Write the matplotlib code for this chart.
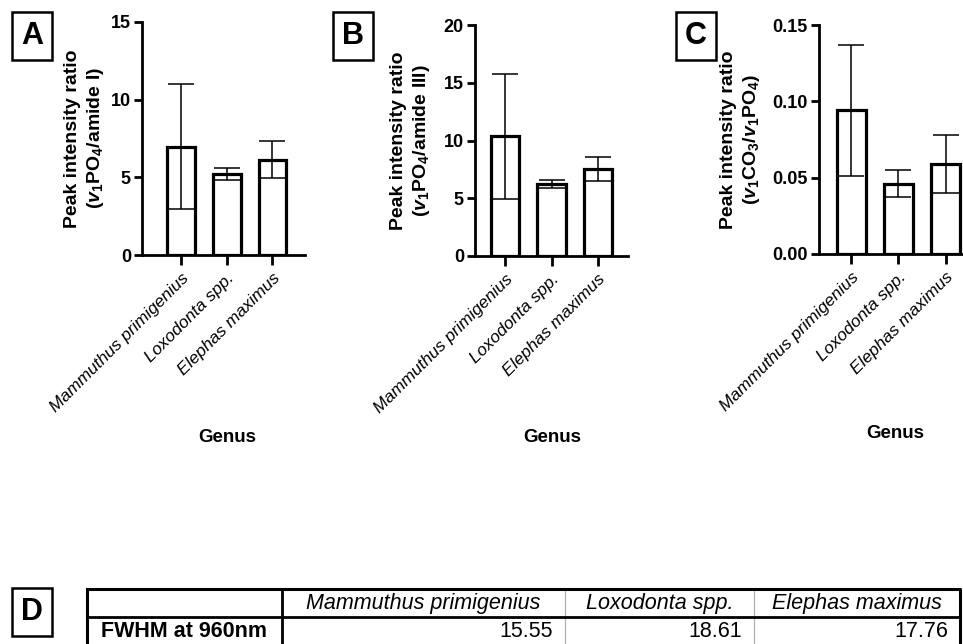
import numpy as np
import matplotlib
matplotlib.use("Agg")
import matplotlib.pyplot as plt

plt.rcParams['font.family'] = ['Liberation Sans', 'DejaVu Sans']
plt.rcParams['mathtext.fontset'] = 'custom'
plt.rcParams['mathtext.rm'] = 'Liberation Sans:bold'
plt.rcParams['mathtext.it'] = 'Liberation Sans:bold:italic'
plt.rcParams['mathtext.bf'] = 'Liberation Sans:bold'

# data
genus = ['Mammuthus primigenius', 'Loxodonta spp.', 'Elephas maximus']

mean_a = [6.98, 5.21, 6.14]
sd_a = [4.02, 0.39, 1.20]

mean_b = [10.35, 6.27, 7.55]
sd_b = [5.40, 0.35, 1.02]

mean_c = [0.094, 0.046, 0.059]
sd_c = [0.043, 0.0089, 0.019]

fwhm_label = 'FWHM at 960nm'
fwhm = [15.55, 18.61, 17.76]

W, H = 963, 644
fig = plt.figure(figsize=(W / 100, H / 100), dpi=100)


def px_box(l, t, r, b):
    return [l / W, 1 - b / H, (r - l) / W, (b - t) / H]


def fx(x):
    return x / W


def fy(y):
    return 1 - y / H


letter_box = dict(boxstyle='square,pad=0.3', facecolor='white',
                  edgecolor='black', linewidth=1.8)

panels = [
    # letter, means, sds, ymax, yticks, fmt, axes box, xlim, ylabel, ylabel x, genus xy, letter xy
    ('A', mean_a, sd_a, 15, [0, 5, 10, 15], '%d', (142, 22, 305, 255), (-0.85, 2.71),
     'Peak intensity ratio\n($v_1$PO$_4$/amide I)', 85, (227, 438), (32, 36)),
    ('B', mean_b, sd_b, 20, [0, 5, 10, 15, 20], '%d', (475, 25, 628, 256), (-0.66, 2.66),
     'Peak intensity ratio\n($v_1$PO$_4$/amide III)', 411, (552, 437), (353, 36)),
    ('C', mean_c, sd_c, 0.15, [0, 0.05, 0.10, 0.15], '%.2f', (819, 25, 975, 254), (-0.68, 2.62),
     'Peak intensity ratio\n($v_1$CO$_3$/$v_1$PO$_4$)', 741, (895, 433), (696, 36)),
]

x = np.arange(len(genus))
for (letter, means, sds, ymax, yticks, fmt, bx, xl, ylab, ylx,
     gxy, lxy) in panels:
    ax = fig.add_axes(px_box(*bx))
    ax.bar(x, means, width=0.61, color='white', edgecolor='black',
           linewidth=2.3, zorder=2)
    ax.errorbar(x, means, yerr=sds, fmt='none', ecolor='black',
                elinewidth=1.1, capsize=9.5, capthick=1.1, zorder=3)
    ax.set_xlim(*xl)
    ax.set_ylim(0, ymax)
    ax.set_yticks(yticks)
    ax.yaxis.set_major_formatter(matplotlib.ticker.FormatStrFormatter(fmt))
    ax.set_xticks(x)
    ax.set_xticklabels(genus, rotation=45, ha='right', rotation_mode='anchor',
                       fontstyle='italic', fontsize=12.5)
    for lab in ax.get_yticklabels():
        lab.set_fontweight('bold')
        lab.set_fontsize(13)
    ax.spines['top'].set_visible(False)
    ax.spines['right'].set_visible(False)
    ax.spines['left'].set_linewidth(2.0)
    ax.spines['bottom'].set_linewidth(2.0)
    ax.tick_params(axis='y', length=6, width=2.0, pad=2)
    ax.tick_params(axis='x', length=7, width=2.0, pad=4)
    ax.patch.set_visible(False)

    ycen = (bx[1] + bx[3]) / 2
    fig.text(fx(ylx), fy(ycen), ylab, rotation=90, ha='center', va='center',
             multialignment='center', fontsize=14, fontweight='bold',
             linespacing=1.3)
    fig.text(fx(gxy[0]), fy(gxy[1]), 'Genus', ha='center', va='center',
             fontsize=13.5, fontweight='bold')
    fig.text(fx(lxy[0]), fy(lxy[1]), letter, ha='center', va='center',
             fontsize=22, fontweight='bold', bbox=letter_box)

# panel D: table
fig.text(fx(32), fy(612), 'D', ha='center', va='center', fontsize=22,
         fontweight='bold', bbox=letter_box)

tl, tt, tr, tb = 87, 589, 960, 652
cols = [tl, 282, 565, 754, tr]
row_split = 617
axt = fig.add_axes(px_box(tl, tt, tr, tb))
axt.set_xlim(tl, tr)
axt.set_ylim(tb, tt)
axt.axis('off')
for cx in cols[2:4]:
    axt.plot([cx, cx], [tt, tb], color='#b0b0b0', lw=0.9, clip_on=False)
axt.plot([cols[1], cols[1]], [tt, tb], color='black', lw=2.0, clip_on=False)
axt.plot([tl, tr], [row_split, row_split], color='black', lw=2.0, clip_on=False)
axt.plot([tl, tr, tr], [tt, tt, tb], color='black', lw=2.2, clip_on=False)
axt.plot([tl, tl], [tt, tb], color='black', lw=2.2, clip_on=False)

ym_head = (tt + row_split) / 2 + 0.5
ym_row = 631
for i, g in enumerate(genus):
    axt.text((cols[i + 1] + cols[i + 2]) / 2, ym_head, g, ha='center',
             va='center', fontsize=15.5, fontstyle='italic')
    axt.text(cols[i + 2] - 12, ym_row, '%.2f' % fwhm[i], ha='right',
             va='center', fontsize=15.5)
axt.text(101, ym_row, fwhm_label, ha='left', va='center', fontsize=15.5,
         fontweight='bold')

fig.savefig('out.png', dpi=100)
